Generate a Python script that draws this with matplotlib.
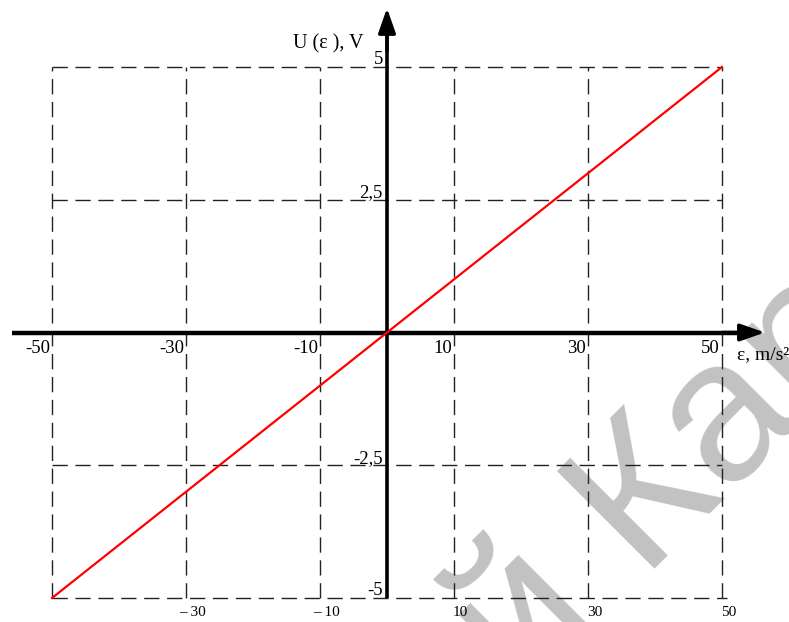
import matplotlib
matplotlib.use('Agg')
from matplotlib import pyplot as plt
from matplotlib.patches import ArrowStyle

# data
eps = [-50, -30, -10, 0, 10, 30, 50]
u = [-5, -3, -1, 0, 1, 3, 5]

x_grid = [-50, -30, -10, 10, 30, 50]
y_grid = [-5, -2.5, 2.5, 5]
x_labels = ['-50', '-30', '-10', '10', '30', '50']
y_labels = ['-5', '-2,5', '2,5', '5']
bottom_pos = [-30, -10, 10, 30, 50]
bottom_labels = ['\u2013 30', '\u2013 10', '10', '30', '50']

plt.rcParams['font.family'] = ['Liberation Serif', 'DejaVu Serif']

fig = plt.figure(figsize=(7.89, 6.22), dpi=100)
ax = fig.add_axes([0, 0, 1, 1])
ax.set_xlim(-57.76, 60.0)
ax.set_ylim(-5.452, 6.262)
ax.axis('off')

# watermark (behind everything)
ax.text(0.664, -0.125, '\u0439 \u041a\u0430\u0440\u0448', transform=fig.transFigure,
        rotation=45, rotation_mode='anchor', ha='left', va='baseline',
        fontsize=145, color='#c2c2c2',
        family=['Liberation Sans Narrow', 'Liberation Sans'],
        zorder=0, clip_on=False)

# dashed grid
for x in x_grid:
    ax.plot([x, x], [-5, 5], color='#222222', lw=1.0, dashes=(11, 5.5), zorder=2)
for y in y_grid:
    ax.plot([-50, 50.7 if y == -5 else 50], [y, y], color='#222222', lw=1.0,
            dashes=(11, 5.5), zorder=2)

# axes with arrows
ax.plot([-56, 53], [0, 0], color='black', lw=3.2, zorder=3, solid_capstyle='butt')
ax.plot([0, 0], [-5, 5.8], color='black', lw=2.6, zorder=3, solid_capstyle='butt')
ax.annotate('', xy=(56.4, 0), xytext=(50, 0),
            arrowprops=dict(arrowstyle=ArrowStyle('-|>', head_length=1.0, head_width=0.35),
                            mutation_scale=15, lw=2.5, color='black',
                            shrinkA=0, shrinkB=0), zorder=3)
ax.annotate('', xy=(0, 6.11), xytext=(0, 5.3),
            arrowprops=dict(arrowstyle=ArrowStyle('-|>', head_length=1.0, head_width=0.35),
                            mutation_scale=15, lw=2.5, color='black',
                            shrinkA=0, shrinkB=0), zorder=3)

# characteristic
ax.plot(eps, u, color='red', lw=1.6, zorder=4)

# labels
for x, lab in zip(x_grid, x_labels):
    ax.text(x - 0.3, -0.14, lab, ha='right', va='top', fontsize=13.5, zorder=5)
for y, lab in zip(y_grid, y_labels):
    ax.text(-0.6, y + 0.05, lab, ha='right', va='baseline', fontsize=13.5, zorder=5)
for x, lab in zip(bottom_pos, bottom_labels):
    ax.text(x + 1.0, -5.28, lab, ha='center', va='center', fontsize=11, zorder=5)

ax.text(52.2, -0.42, '\u03b5, m/s\u00b2', ha='left', va='center', fontsize=14, zorder=5)
ax.text(-8.8, 5.43, 'U (\u03b5 ), V', ha='center', va='center', fontsize=14.5, zorder=5)

fig.savefig('out.png', dpi=100)
